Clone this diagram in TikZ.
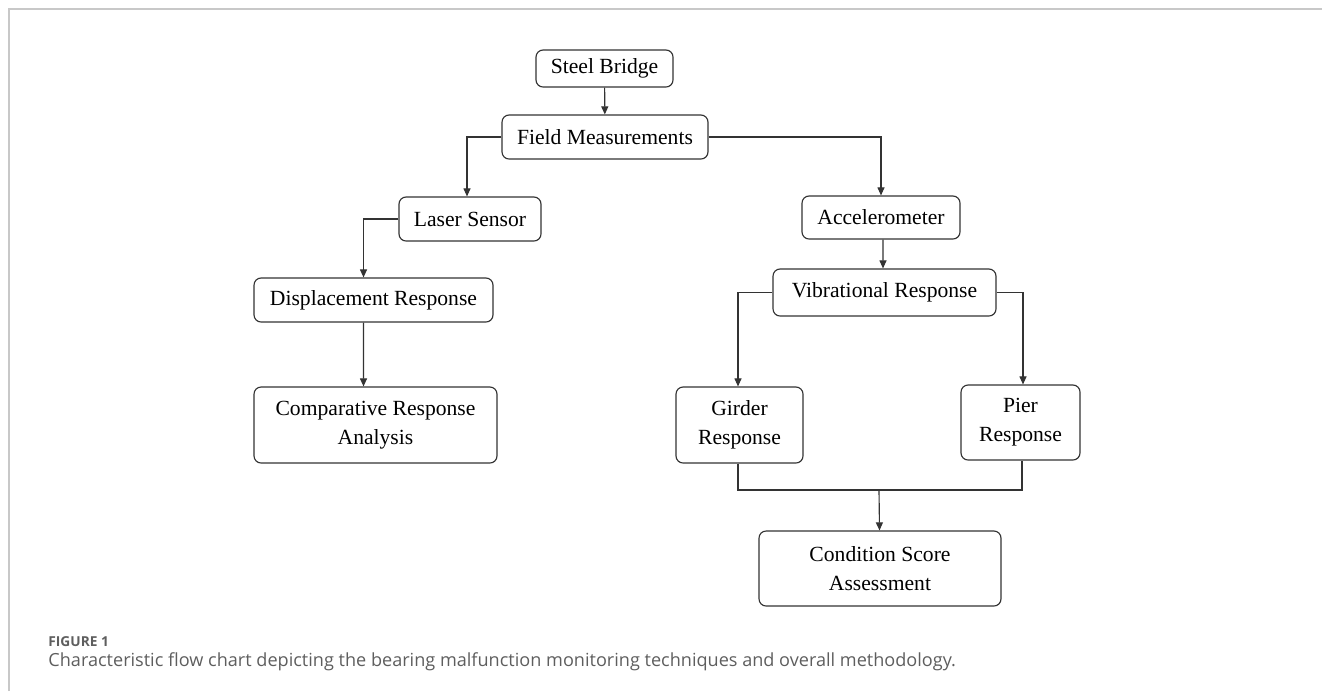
\documentclass[tikz,border=0pt]{standalone}
\usepackage{fontspec}
\usepackage{tikz}
\usetikzlibrary{arrows.meta}
\setmainfont{Liberation Serif}
\newfontfamily\capfont{Open Sans}
\definecolor{framegray}{HTML}{C8C8C8}
\definecolor{capgray}{HTML}{5E5E5E}
\definecolor{linegray}{HTML}{333333}

\begin{document}
\begin{tikzpicture}[x = 0.02cm, y = -0.02cm, line width = 0.65pt,
								>={Triangle[length = 4.6pt, width = 4pt]},
								box/.style = {rectangle, draw = linegray, rounded corners = 4pt,
								inner sep = 0pt, align = center, minimum height = 0.88cm,
								font = \fontsize{12.3}{16.4}\selectfont},
								tall/.style = {box, minimum height = 1.52cm},
								arr/.style = {->, draw = linegray},
								link/.style = {draw = linegray}]

				\useasboundingbox (0,0) rectangle (1322,691);
				\draw [framegray, line width = 1pt] (9,691) |- (1322,9);

				\node [box, minimum width = 2.74cm, minimum height = 0.74cm] (f_1) at (604.5,68.5) {Steel Bridge};
				\node [box, minimum width = 4.12cm] (f_2) at (605,137) {Field Measurements};
				\node [box, minimum width = 2.84cm] (f_3) at (470,219) {Laser Sensor};
				\node [box, minimum width = 3.16cm, minimum height = 0.86cm] (f_4) at (881,217.5) {Accelerometer};
				\node [box, minimum width = 4.78cm] (f_5) at (373.5,300) {Displacement Response};
				\node [box, minimum width = 4.46cm, minimum height = 0.94cm] (f_6) at (884.5,292.5) {Vibrational Response};
				\node [tall, minimum width = 4.86cm] (f_7) at (375.5,425) {Comparative Response\\Analysis};
				\node [tall, minimum width = 2.54cm] (f_8) at (739.5,425) {Girder\\Response};
				\node [tall, minimum width = 2.38cm, minimum height = 1.5cm] (f_9) at (1020.5,422.5) {Pier\\Response};
				\node [tall, minimum width = 4.84cm, minimum height = 1.5cm] (f_10) at (880,568.5) {Condition Score\\Assessment};
				\coordinate (f_j) at (879,490);

				\draw [arr] (f_1) -- (f_2);
				\draw [arr] (f_2.west) -| ([xshift = -0.06cm]f_3.north);
				\draw [arr] (f_2.east) -| (f_4.north);
				\draw [arr] (f_3.west) -| ([xshift = -0.2cm]f_5.north);
				\draw [arr] ([xshift = -0.2cm]f_5.south) -- ([xshift = -0.24cm]f_7.north);
				\draw [arr] ([xshift = 0.04cm]f_4.south) -- ([xshift = -0.03cm]f_6.north);
				\draw [arr] (f_6.west) -| ([xshift = -0.03cm]f_8.north);
				\draw [arr] (f_6.east) -| ([xshift = 0.05cm]f_9.north);
				\draw [link] ([xshift = -0.03cm]f_8.south) |- (f_j) -| ([xshift = 0.03cm]f_9.south);
				\draw [arr] (f_j) -- (f_10);

				\node [anchor = base west, text = capgray, font = \capfont\fontsize{7.8}{9}\selectfont\bfseries]
				(t_1) at (42,646) {FIGURE 1};
				\node [anchor = base west, text = capgray, font = \capfont\fontsize{10.3}{12}\selectfont]
				(t_2) at (42,666) {Characteristic flow chart depicting the bearing malfunction monitoring techniques and overall methodology.};
			\end{tikzpicture}
\end{document}
